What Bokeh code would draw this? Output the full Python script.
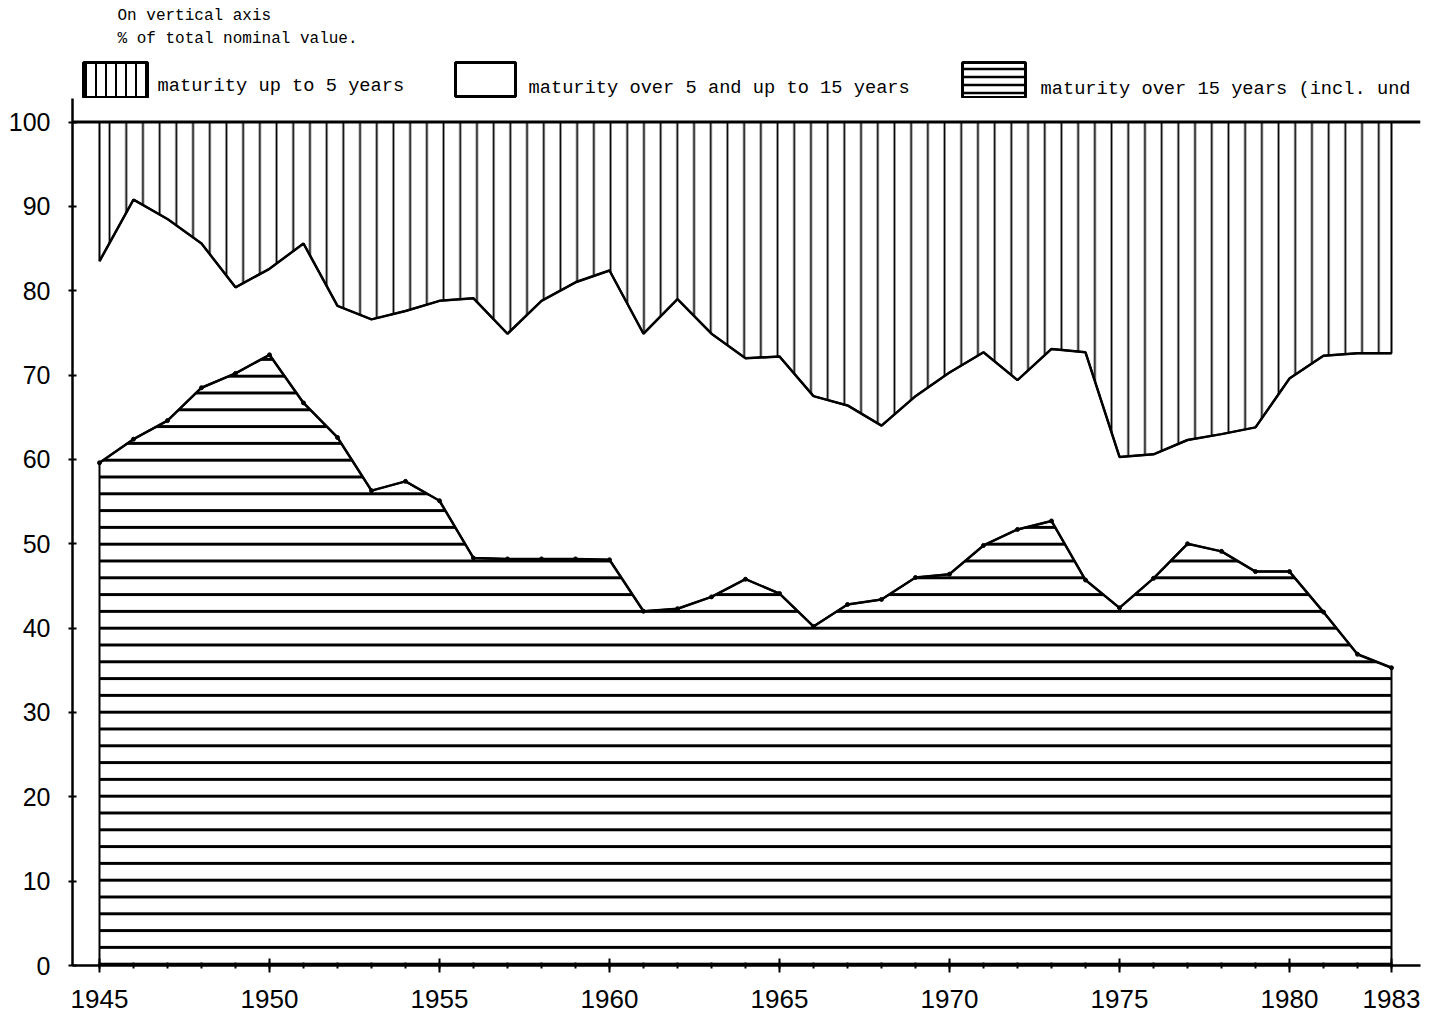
from bokeh.plotting import figure
from bokeh.models import Range1d, FixedTicker, Span
from bokeh.layouts import column
from bokeh.embed import file_html
from bokeh.resources import INLINE
from bokeh.core.properties import value

# ---------------- data ----------------
years = [1945, 1946, 1947, 1948, 1949, 1950, 1951, 1952, 1953, 1954,
         1955, 1956, 1957, 1958, 1959, 1960, 1961, 1962, 1963, 1964,
         1965, 1966, 1967, 1968, 1969, 1970, 1971, 1972, 1973, 1974,
         1975, 1976, 1977, 1978, 1979, 1980, 1981, 1982, 1983]

# % of total nominal value, maturity up to 5 years
share_up_to_5 = [16.5, 9.2, 11.5, 14.4, 19.6, 17.4, 14.4, 21.8, 23.4, 22.4,
                 21.2, 20.9, 25.1, 21.2, 19.0, 17.6, 25.1, 21.0, 25.1, 28.0,
                 27.8, 32.5, 33.6, 36.0, 32.5, 29.7, 27.3, 30.6, 26.9, 27.3,
                 39.7, 39.4, 37.7, 37.0, 36.2, 30.4, 27.7, 27.4, 27.4]

# % of total nominal value, maturity over 15 years (incl. undated)
share_over_15 = [59.6, 62.4, 64.6, 68.5, 70.2, 72.4, 66.7, 62.6, 56.3, 57.4,
                 55.1, 48.3, 48.2, 48.2, 48.2, 48.1, 42.0, 42.3, 43.7, 45.8,
                 44.1, 40.2, 42.8, 43.4, 46.0, 46.4, 49.8, 51.7, 52.7, 45.7,
                 42.4, 45.9, 50.0, 49.1, 46.7, 46.7, 41.9, 36.9, 35.3]

# maturity over 5 and up to 15 years = remainder
share_5_to_15 = [100 - a - b for a, b in zip(share_up_to_5, share_over_15)]

tick_years = [1945, 1950, 1955, 1960, 1965, 1970, 1975, 1980, 1983]
tick_labels = {1945: "1945", 1950: "1950", 1955: "1955", 1960: "1960",
               1965: "1965", 1970: "1970", 1975: "1975", 1980: "1980",
               1983: "1983"}
y_ticks = [0, 10, 20, 30, 40, 50, 60, 70, 80, 90, 100]

title_lines = ["On vertical axis", "% of total nominal value."]
legend_labels = ["maturity up to 5 years",
                 "maturity over 5 and up to 15 years",
                 "maturity over 15 years (incl. und"]

# stacked boundaries
top_over_15 = share_over_15
top_5_to_15 = [a + b for a, b in zip(share_over_15, share_5_to_15)]

W = 1434
HEAD_H = 98
MAIN_H = 922
BL, BR = 72, 14
MONO = value("Liberation Mono")

# ---------------- header: note + legend (coordinates = page pixels) ----------------
head = figure(width=W, height=HEAD_H, output_backend="svg", toolbar_location=None,
              x_range=Range1d(BL, W - BR), y_range=Range1d(HEAD_H, 0),
              x_axis_type=None, y_axis_type=None,
              min_border_left=BL, min_border_right=BR,
              min_border_top=0, min_border_bottom=0, outline_line_color=None)
head.grid.visible = False

head.text(x=[117, 117], y=[15, 38], text=title_lines, text_font=MONO,
          text_font_size="16px", text_baseline="middle", text_align="left",
          text_color="black")

# swatches
head.quad(left=[83], right=[147], top=[62], bottom=[97], fill_color="white",
          line_color="black", line_width=3, hatch_pattern="|", hatch_scale=10,
          hatch_weight=2, hatch_color="black")
head.quad(left=[455], right=[515], top=[62], bottom=[96], fill_color="white",
          line_color="black", line_width=3)
head.quad(left=[962], right=[1025], top=[62], bottom=[97], fill_color="white",
          line_color="black", line_width=3, hatch_pattern="-", hatch_scale=8,
          hatch_weight=2.5, hatch_color="black")

head.text(x=[157, 528, 1040], y=[85, 87, 88], text=legend_labels, text_font=MONO,
          text_font_size="18.7px", text_baseline="middle", text_align="left",
          text_color="black")

# ---------------- main chart ----------------
p = figure(width=W, height=MAIN_H, output_backend="svg", toolbar_location=None,
           x_range=Range1d(1944.206, 1983.853), y_range=Range1d(0, 102.79),
           min_border_left=BL, min_border_right=BR, min_border_top=0,
           min_border_bottom=MAIN_H - 867, outline_line_color=None,
           background_fill_color="white", border_fill_color="white")
p.grid.visible = False

xs_poly = years + years[::-1]

# band: maturity up to 5 years (vertical hatching, from boundary to 100)
p.patch(xs_poly, top_5_to_15 + [100] * len(years), fill_color="white",
        hatch_pattern="|", hatch_scale=16.7, hatch_weight=1.8, hatch_color="black",
        line_color="black", line_width=2)

# band: maturity over 15 years (horizontal hatching, from 0 to boundary)
p.patch(xs_poly, top_over_15 + [0] * len(years), fill_color="white",
        hatch_pattern="-", hatch_scale=16.8, hatch_weight=3, hatch_color="black",
        line_color="black", line_width=2)

p.line(years, top_5_to_15, line_color="black", line_width=2.5)
p.line(years, top_over_15, line_color="black", line_width=2.5)
p.scatter(years, top_over_15, size=4, color="black")

p.add_layout(Span(location=100, dimension="width", line_color="black", line_width=3))

# axes
xa = p.xaxis[0]
xa.ticker = FixedTicker(ticks=tick_years, minor_ticks=years)
xa.major_label_overrides = tick_labels
xa.major_label_text_font = "Liberation Sans"
xa.major_label_text_font_size = "26px"
xa.major_label_text_color = "black"
xa.axis_line_width = 2.5
xa.axis_line_color = "black"
xa.major_tick_in = 7
xa.major_tick_out = 7
xa.minor_tick_in = 3
xa.minor_tick_out = 3
xa.major_tick_line_width = 2
xa.minor_tick_line_width = 2
xa.major_label_standoff = 17

ya = p.yaxis[0]
ya.ticker = FixedTicker(ticks=y_ticks)
ya.major_label_text_font = "Liberation Sans"
ya.major_label_text_font_size = "25px"
ya.major_label_text_color = "black"
ya.axis_line_width = 2.5
ya.axis_line_color = "black"
ya.major_tick_in = 4
ya.major_tick_out = 4
ya.minor_tick_line_color = None
ya.major_tick_line_width = 2
ya.major_label_standoff = 18

layout = column(head, p, spacing=0)
open("out.html", "w").write(file_html(layout, INLINE))
